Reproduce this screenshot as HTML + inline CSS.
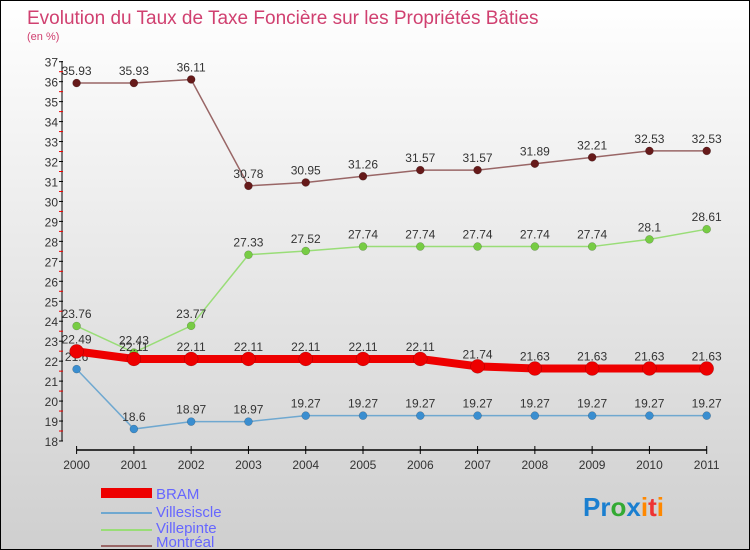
<!DOCTYPE html>
<html><head><meta charset="utf-8"><style>
body{margin:0}
#c{width:750px;height:550px;position:relative;background:linear-gradient(#ffffff,#cfcfcf);box-sizing:border-box;border:1px solid #000;font-family:"Liberation Sans",sans-serif}
</style></head><body>
<div id="c">
<svg id="s" width="748" height="548" style="position:absolute;left:0;top:0">
<text x="26" y="23" font-size="19" fill="#d04070">Evolution du Taux de Taxe Foncière sur les Propriétés Bâties</text>
<text x="26" y="39" font-size="11" fill="#d04070">(en %)</text>
<g id="g"></g>
<g>
<rect x="100" y="487" width="51" height="10" fill="#e00"/>
<text x="155" y="498" font-size="15" fill="#6666ff">BRAM</text>
<line x1="100" y1="512" x2="151" y2="512" stroke="#6fa8d0" stroke-width="2"/>
<text x="155" y="516" font-size="15" fill="#6666ff">Villesiscle</text>
<line x1="100" y1="529" x2="151" y2="529" stroke="#99dd77" stroke-width="2"/>
<text x="155" y="532" font-size="15" fill="#6666ff">Villepinte</text>
<line x1="100" y1="545" x2="151" y2="545" stroke="#996666" stroke-width="2"/>
<text x="155" y="546" font-size="15" fill="#6666ff">Montréal</text>
</g>
<text x="582" y="515" font-size="26" font-weight="bold"><tspan fill="#1a7fd0">Pr</tspan><tspan fill="#3a3">o</tspan><tspan fill="#1a7fd0">x</tspan><tspan fill="#f80">i</tspan><tspan fill="#e33">t</tspan><tspan fill="#f80">i</tspan></text>
</svg>
</div>
<script>
const years=["2000","2001","2002","2003","2004","2005","2006","2007","2008","2009","2010","2011"];
const bram=[22.49,22.11,22.11,22.11,22.11,22.11,22.11,21.74,21.63,21.63,21.63,21.63];
const villesiscle=[21.6,18.6,18.97,18.97,19.27,19.27,19.27,19.27,19.27,19.27,19.27,19.27];
const villepinte=[23.76,22.43,23.77,27.33,27.52,27.74,27.74,27.74,27.74,27.74,28.1,28.61];
const montreal=[35.93,35.93,36.11,30.78,30.95,31.26,31.57,31.57,31.89,32.21,32.53,32.53];
const yTicks=[18,19,20,21,22,23,24,25,26,27,28,29,30,31,32,33,34,35,36,37];
const NS="http://www.w3.org/2000/svg",g=document.getElementById('g');
const X=i=>75.6+i*(705.7-75.6)/11, Y=v=>440-(v-18)*(379.3/19);
function el(t,a,p){const e=document.createElementNS(NS,t);for(const k in a)e.setAttribute(k,a[k]);(p||g).appendChild(e);return e;}
let ax=el('line',{x1:61,y1:60,x2:61,y2:440,stroke:'#000','stroke-width':1});

let xa=el('line',{x1:75.6,y1:449,x2:705.7,y2:449,stroke:'#000','stroke-width':1.5});

yTicks.forEach(v=>{
  el('line',{x1:58,y1:Y(v),x2:62,y2:Y(v),stroke:'#000'});
  if(v<37)el('line',{x1:58,y1:Y(v+0.5),x2:62,y2:Y(v+0.5),stroke:'#e00'});
  let t=el('text',{x:57,y:Y(v)+5,'font-size':12,fill:'#333','text-anchor':'end'});t.textContent=v;
  
});
years.forEach((y,i)=>{
  el('line',{x1:X(i),y1:445,x2:X(i),y2:453,stroke:'#000'});
  let t=el('text',{x:X(i),y:468,'font-size':12,fill:'#333','text-anchor':'middle'});t.textContent=y;
  
});
function series(d,col,dot,w,r,name){
  let p=el('polyline',{points:d.map((v,i)=>X(i)+','+Y(v)).join(' '),fill:'none',stroke:col,'stroke-width':w});
  
  d.forEach((v,i)=>{
    let c=el('circle',{cx:X(i),cy:Y(v),r:r,fill:dot,stroke:'rgba(0,0,0,0.3)','stroke-width':0.5});
    
    let t=el('text',{x:X(i),y:Y(v)-8,'font-size':12,fill:'#333','text-anchor':'middle'});t.textContent=v;
    
  });
}
series(villesiscle,'#6fa8d0','#3a8ed0',1.5,4,'villesiscle');
series(villepinte,'#99dd77','#77cc44',1.5,4,'villepinte');
series(montreal,'#996666','#661a1a',1.5,4,'montreal');
series(bram,'#ee0000','#ee0000',8,7,'bram');
</script>
</body></html>
